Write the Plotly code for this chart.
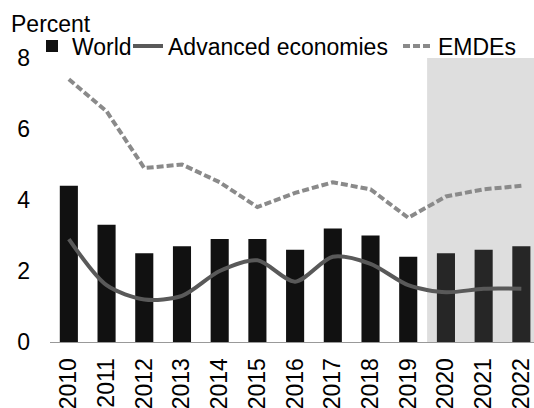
import plotly.graph_objects as go

years = ["2010", "2011", "2012", "2013", "2014", "2015", "2016",
         "2017", "2018", "2019", "2020", "2021", "2022"]
world = [4.4, 3.3, 2.5, 2.7, 2.9, 2.9, 2.6, 3.2, 3.0, 2.4, 2.5, 2.6, 2.7]
advanced = [2.9, 1.6, 1.2, 1.3, 2.0, 2.3, 1.7, 2.4, 2.2, 1.6, 1.4, 1.5, 1.5]
emdes = [7.4, 6.5, 4.9, 5.0, 4.5, 3.8, 4.2, 4.5, 4.3, 3.5, 4.1, 4.3, 4.4]
forecast_start = "2020"
y_ticks = [0, 2, 4, 6, 8]

FONT = "Liberation Sans, Arial, sans-serif"
W, H = 547, 408
L, T = 50, 58
B = H - 342

f_idx = years.index(forecast_start)
bar_colors = ["#111111" if i < f_idx else "#262626" for i in range(len(years))]
x_idx = list(range(len(years)))

fig = go.Figure()
fig.add_trace(go.Bar(x=x_idx, y=world, name="World", marker=dict(color=bar_colors, line=dict(width=0)),
                     legend="legend"))
fig.add_trace(go.Scatter(x=x_idx, y=advanced, name="Advanced economies", mode="lines",
                         line=dict(color="#595959", width=4, shape="spline", smoothing=0.8),
                         legend="legend2"))
fig.add_trace(go.Scatter(x=x_idx, y=emdes, name="EMDEs", mode="lines",
                         line=dict(color="#8a8a8a", width=4, dash="7px,3px"),
                         legend="legend3"))

fig.add_shape(type="rect", xref="x", yref="y", x0=f_idx - 0.5, x1=len(years) - 0.5,
              y0=0, y1=y_ticks[-1], fillcolor="#dedede", line=dict(width=0), layer="below")

def px_x(p):
    return p / W

def px_y(p):
    return 1 - p / H

leg_common = dict(orientation="h", xref="container", yref="container", xanchor="left",
                  yanchor="middle", bgcolor="rgba(0,0,0,0)", borderwidth=0,
                  font=dict(family=FONT, size=23, color="black"), itemwidth=30)
fig.update_layout(
    width=W, height=H,
    margin=dict(l=L, r=0, t=T, b=B, autoexpand=False),
    paper_bgcolor="white", plot_bgcolor="white",
    bargap=0.52,
    showlegend=True,
    legend=dict(x=px_x(72 - 40), y=px_y(46), **leg_common),
    legend2=dict(x=px_x(168 - 40), y=px_y(46), **leg_common),
    legend3=dict(x=px_x(438 - 40), y=px_y(46), **leg_common),
    xaxis=dict(tickmode="array", tickvals=x_idx, ticktext=years, tickangle=-90,
               range=[-0.5, 12.68], showgrid=False, showline=True,
               linecolor="#999999", linewidth=1, ticks="", ticklabelstandoff=6,
               automargin=False, zeroline=False,
               tickfont=dict(family=FONT, size=23, color="black")),
    yaxis=dict(range=[0, 8], tickvals=y_ticks, showgrid=False, showline=False,
               zeroline=False, ticks="", ticklabelstandoff=19, automargin=False,
               tickfont=dict(family=FONT, size=23, color="black")),
    annotations=[dict(text="Percent", xref="paper", yref="paper", x=(9 - L) / (W - L),
                      y=1 + (T - 24) / (H - T - B), xanchor="left", yanchor="middle",
                      showarrow=False, font=dict(family=FONT, size=23, color="black"))],
)

fig.write_html("out.html", config={"displayModeBar": False},
               post_script="document.body.style.margin='0';document.body.style.overflow='hidden';")
